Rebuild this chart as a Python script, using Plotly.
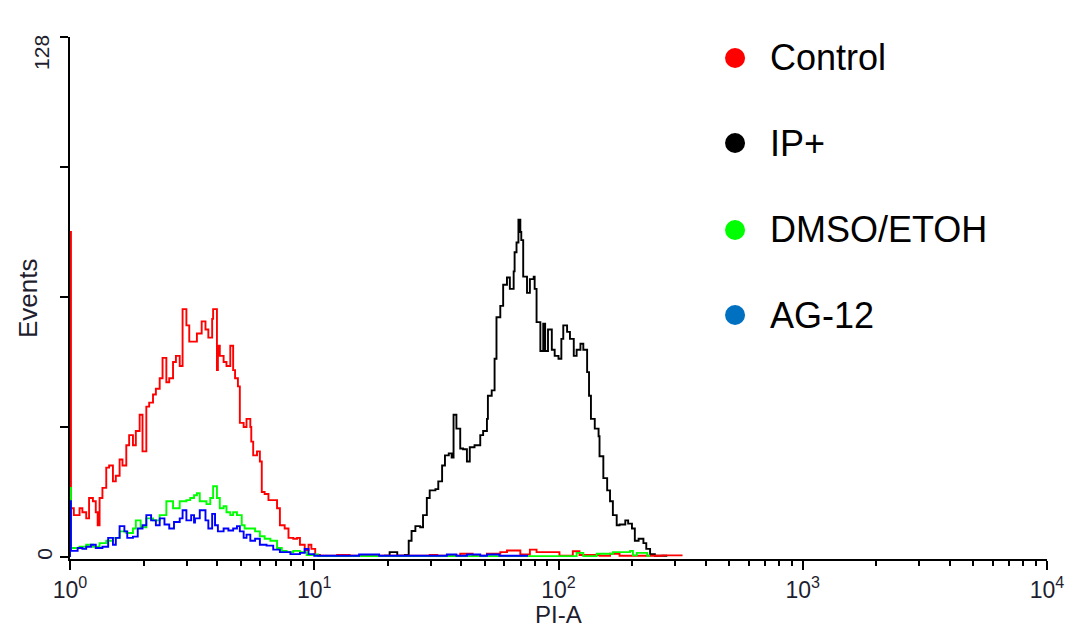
import plotly.graph_objects as go

# Log-channel histograms (1024 channels over 4 decades), breakpoints of each step trace
RED_CH = [0, 1, 4, 10, 13, 17, 20, 24, 27, 29, 31, 34, 38, 41, 45, 48, 52, 55, 59, 62,
          66, 69, 73, 76, 80, 83, 87, 90, 94, 97, 101, 104, 108, 111, 115, 118, 122, 125,
          128, 133, 138, 142, 145, 149, 150, 154, 155, 157, 161, 164, 168, 171, 173, 176,
          178, 182, 185, 189, 190, 192, 196, 199, 201, 204, 208, 213, 217, 220, 225, 229,
          234, 238, 241, 246, 250, 253, 257, 262, 280, 293, 377, 385, 409, 422, 437, 451,
          458, 472, 482, 489, 513, 516, 527, 534, 555, 566, 576, 621, 642]
RED_N = [80, 12, 10.3, 12, 11, 9.5, 14.5, 13.7, 11, 7.8, 14.5, 17, 22, 22.5, 18.6, 20, 24, 22.5, 27.5, 30,
         27.5, 31, 35, 26, 37, 38, 40, 41.4, 44, 49, 43, 44, 48, 49.5, 47, 61, 57, 53,
         53, 55, 58, 56, 54, 58.6, 61, 46, 52, 49.5, 48, 47, 52, 46, 44, 42,
         33, 32, 34, 32, 28.4, 25, 26, 23.5, 16, 15.5, 14, 14, 12, 7.8, 7, 4.7,
         4.5, 4.7, 3, 1.7, 3, 2, 0.5, 0.3, 0.5, 0.3, 0.5, 0.3, 0.8, 0.3, 0.8, 1.2,
         1.6, 0.6, 1.8, 1.2, 0.3, 0.3, 1.4, 0.5, 0.3, 0.8, 0.3, 0.4, 0.4]

BLACK_CH = [330, 335, 343, 351, 355, 358, 362, 367, 370, 374, 377, 383, 386, 390, 393, 397, 400,
            402, 405, 409, 412, 416, 419, 424, 430, 433, 437, 438, 442, 445, 447, 451, 454, 458,
            461, 465, 466, 468, 470, 472, 473, 475, 479, 482, 486, 487, 489, 493, 496, 498, 501,
            505, 508, 512, 515, 517, 521, 524, 528, 531, 535, 538, 542, 544, 546, 550, 554, 555,
            559, 563, 566, 569, 573, 576, 582, 585, 589, 592, 596, 601, 604, 608, 613, 626]
BLACK_N = [0.3, 1.2, 0.3, 0.5, 4, 6.4, 7.6, 7.3, 10.3, 14.5, 16.4, 16.7, 18.6, 22.5, 25, 25.5, 24.5,
           35, 31.6, 26.7, 26.5, 23.5, 27, 27.5, 30, 31, 34, 39.7, 41, 48.8, 59, 61.8, 67, 68.8,
           66, 70.3, 75, 77.4, 83, 80, 78, 69, 65, 68.4, 69, 66, 57.8, 50.7, 57.4, 50.7, 56,
           51, 49.5, 48.8, 53.7, 57, 55.4, 53.7, 49.5, 51, 52.5, 51, 45.5, 39.7, 34, 31.6, 29.7, 24.8,
           19.4, 16.4, 13.7, 10.3, 7.8, 8, 9, 8.2, 7, 4, 4.5, 3.4, 2, 0.7, 0.3, 0.3]

GREEN_CH = [0, 1, 10, 17, 24, 31, 38, 45, 52, 59, 66, 69, 74, 80, 87, 94, 101, 108, 115, 122,
            126, 130, 133, 136, 143, 147, 150, 154, 157, 161, 164, 168, 171, 175, 180, 183, 189,
            194, 199, 204, 210, 217, 222, 227, 234, 241, 248, 255, 260, 531, 538, 552, 569, 587,
            590, 594, 605, 608]
GREEN_N = [17, 2.2, 2.5, 3, 2.5, 3.4, 4, 4.7, 6.3, 5.9, 7, 9, 7.3, 9.5, 9, 10.3, 13.7, 12, 13.7, 14,
           14.5, 15.2, 15.7, 13.7, 13, 14.5, 17.4, 14.5, 12, 12.5, 11, 10.3, 11, 10.3, 7.8, 7, 7,
           6.3, 5.1, 4.5, 4, 2.2, 1.5, 1.2, 1.5, 1.2, 0.5, 0.6, 0.2, 1, 0.2, 0.8, 1.2, 1.5,
           0.4, 1, 0.3, 0.3]

BLUE_CH = [0, 1, 8, 13, 17, 22, 27, 34, 40, 45, 48, 52, 57, 60, 66, 71, 76, 80, 85, 90, 94, 99,
           104, 109, 115, 118, 122, 127, 130, 131, 136, 142, 145, 149, 152, 155, 161, 166, 171,
           175, 178, 182, 185, 189, 194, 199, 206, 213, 220, 231, 241, 246, 250, 256, 303, 324,
           395, 405, 416, 430, 437, 450, 480]
BLUE_N = [13.7, 1.5, 2.2, 2, 2.5, 3, 2.2, 2.5, 4.7, 3, 4.7, 7.6, 6.3, 4.7, 5, 7, 7.8, 10.3, 9, 7.8, 9.5, 8,
          7, 8.6, 9.5, 11.5, 9, 10.3, 8.5, 9.5, 11.5, 9, 7, 10.6, 7.8, 6.3, 7, 6.5, 7,
          7.6, 6.3, 4.7, 5.5, 4, 4.5, 3, 2.8, 1.8, 1.2, 0.7, 1, 2, 0.7, 0.3, 0.6, 0.3,
          0.6, 0.3, 0.6, 0.3, 0.6, 0.3, 0.3]

SERIES = [
    ("IP+", BLACK_CH, BLACK_N, "#000000", "#000000"),
    ("Control", RED_CH, RED_N, "#ff0000", "#ff0000"),
    ("DMSO/ETOH", GREEN_CH, GREEN_N, "#00ff00", "#00ff00"),
    ("AG-12", BLUE_CH, BLUE_N, "#0000ff", "#0070c0"),
]
LEGEND_ORDER = ["Control", "IP+", "DMSO/ETOH", "AG-12"]

CHANNELS_PER_DECADE = 256
X_TICKS = [1, 10, 100, 1000, 10000]
X_TICK_TEXT = ["10<sup>0</sup>", "10<sup>1</sup>", "10<sup>2</sup>", "10<sup>3</sup>", "10<sup>4</sup>"]
X_MINOR = [m * 10 ** k for k in range(4) for m in range(2, 10)]
Y_MAX = 128
Y_MINOR = [32, 64, 96, 128]

FONT = "Liberation Sans, Arial, sans-serif"
TEXT_COLOR = "#1e1e30"

fig = go.Figure()
for name, ch, n, color, _ in SERIES:
    assert len(ch) == len(n), name
    xs = [10 ** (c / CHANNELS_PER_DECADE) for c in ch]
    fig.add_trace(go.Scatter(
        x=[xs[0]] + xs, y=[0] + n, mode="lines", name=name,
        line=dict(color=color, width=1.9, shape="hv"),
        showlegend=False, hoverinfo="skip",
    ))

# Legend: coloured dots with labels
dot_colors = {s[0]: s[4] for s in SERIES}
rows_y = [0.9598, 0.7969, 0.6303, 0.4674]
for label, yy in zip(LEGEND_ORDER, rows_y):
    fig.add_shape(type="circle", xref="paper", yref="paper",
                  xsizemode="pixel", ysizemode="pixel",
                  xanchor=0.6807, yanchor=yy, x0=-10, x1=10, y0=-10, y1=10,
                  fillcolor=dot_colors[label], line=dict(width=0))
    fig.add_annotation(x=0.7144, y=yy, xref="paper", yref="paper",
                       text=label, showarrow=False, xanchor="left", yanchor="middle",
                       font=dict(family=FONT, size=36, color="#000000"))

# Top y label sits just below its tick
fig.add_annotation(x=-0.0292, y=Y_MAX, xref="paper", yref="y", text=str(Y_MAX),
                   textangle=-90, showarrow=False, xanchor="center", yanchor="top",
                   yshift=4, font=dict(family=FONT, size=21, color=TEXT_COLOR))

# Axis titles
fig.add_annotation(x=-0.043, y=0.5, xref="paper", yref="paper", text="Events",
                   textangle=-90, showarrow=False, xanchor="center", yanchor="middle",
                   font=dict(family=FONT, size=26, color=TEXT_COLOR))
fig.add_annotation(x=0.4995, y=-0.1054, xref="paper", yref="paper", text="PI-A",
                   showarrow=False, xanchor="center", yanchor="middle",
                   font=dict(family=FONT, size=24, color=TEXT_COLOR))

fig.update_layout(
    width=1078, height=627,
    margin=dict(l=70, r=31, t=37, b=68),
    paper_bgcolor="white", plot_bgcolor="white",
    font=dict(family=FONT, color=TEXT_COLOR),
    showlegend=False,
)
fig.update_xaxes(
    type="log", range=[0, 4],
    tickvals=X_TICKS, ticktext=X_TICK_TEXT,
    ticks="outside", ticklen=9, tickwidth=2, tickcolor="black",
    minor=dict(tickvals=X_MINOR, ticks="outside", ticklen=5, tickwidth=1.5,
               tickcolor="black", showgrid=False),
    tickfont=dict(size=23, color=TEXT_COLOR),
    showline=True, linecolor="black", linewidth=2,
    showgrid=False, zeroline=False, layer="below traces",
)
fig.update_yaxes(
    range=[-0.5, Y_MAX],
    tickvals=[0], ticktext=["0"], tickangle=-90,
    ticks="outside", ticklen=8, tickwidth=2, tickcolor="black",
    minor=dict(tickvals=Y_MINOR, ticks="outside", ticklen=8, tickwidth=2,
               tickcolor="black", showgrid=False),
    tickfont=dict(size=21, color=TEXT_COLOR),
    showline=True, linecolor="black", linewidth=2,
    showgrid=False, zeroline=False, layer="below traces",
)

fig.write_html("out.html")
